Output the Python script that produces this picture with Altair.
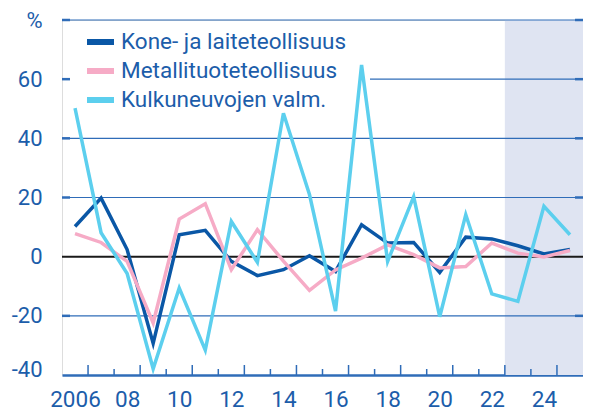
import altair as alt
import pandas as pd

# ---- data ----
years = list(range(2006, 2026))
kone = [10.2, 19.8, 2.4, -29.3, 7.4, 8.9, -1.6, -6.4, -4.4, 0.3,
        -5.0, 10.8, 4.6, 4.8, -5.3, 6.6, 6.0, 3.7, 0.9, 2.4]
metalli = [7.8, 4.8, -1.6, -22.4, 12.7, 17.9, -4.4, 9.1, -1.5, -11.4,
           -4.5, -0.5, 4.0, 0.7, -3.8, -3.3, 4.6, 1.2, -0.1, 2.1]
kulku = [50.2, 8.1, -5.7, -37.9, -10.6, -31.6, 11.9, -1.9, 48.5, 21.0,
         -18.4, 64.8, -1.6, 20.3, -20.3, 14.2, -12.6, -15.1, 17.0, 7.4]
series_names = ["Kone- ja laiteteollisuus", "Metallituoteteollisuus", "Kulkuneuvojen valm."]
series_colors = ["#0a57a6", "#f6abc6", "#5ccfee"]
forecast_start = [2022.5]
forecast_end = [2025.5]
x_domain = [2005.5, 2025.5]
y_domain = [-40, 80]
y_tick_values = [-40, -20, 0, 20, 40, 60, 80]
x_label_values = [2006, 2008, 2010, 2012, 2014, 2016, 2018, 2020, 2022, 2024]
grid_full = [-20, 20, 40, 80]
grid_partial = [60]
stub_values = [-20, 20, 40, 60, 80]
tick_long = [2006.5, 2008.5, 2010.5, 2012.5, 2014.5, 2016.5, 2018.5, 2020.5, 2022.5, 2024.5]
tick_short = [2007.5, 2009.5, 2011.5, 2013.5, 2015.5, 2017.5, 2019.5, 2021.5, 2023.5]

W, H = 521, 355
BLUE = "#1c5daa"
GRID = "#2f6cb8"
FONT = "Roboto"

rows = []
for name, vals in zip(series_names, [kone, metalli, kulku]):
    for y, v in zip(years, vals):
        rows.append({"year": y, "value": v, "series": name})
lines_df = pd.DataFrame(rows)

xs = alt.Scale(domain=x_domain, nice=False, zero=False)
ys = alt.Scale(domain=y_domain, nice=False, zero=False)

X_AXIS = alt.Axis(
    values=x_label_values, title=None, grid=False, ticks=False,
    domain=True, domainColor=GRID, domainWidth=2.5,
    labelExpr="datum.value == 2006 ? '2006' : substring(toString(datum.value), 2)",
    labelFont=FONT, labelFontSize=22.5, labelColor=BLUE, labelPadding=13,
    labelFlush=False, labelOverlap=False)
Y_AXIS = alt.Axis(
    values=y_tick_values, title=None, grid=False, ticks=False, domain=False,
    labelExpr="datum.value == 80 ? '%' : toString(datum.value)",
    labelFont=FONT, labelFontSize=22, labelColor=BLUE, labelPadding=20,
    labelOffset={"condition": {"test": "datum.value == -40", "value": -6}, "value": 0},
    labelFlush=False, labelOverlap=False)

shade = alt.Chart(pd.DataFrame({"s": forecast_start, "e": forecast_end})).mark_rect(
    color="#dfe4f2").encode(
    x=alt.X("s:Q", scale=xs, axis=X_AXIS), x2="e:Q",
    y=alt.value(0), y2=alt.value(H))

grid1 = alt.Chart(pd.DataFrame({"v": grid_full})).mark_rule(
    color=GRID, strokeWidth=1.2).encode(
    y=alt.Y("v:Q", scale=ys, axis=Y_AXIS), x=alt.value(0), x2=alt.value(W))

grid2 = alt.Chart(pd.DataFrame({"v": grid_partial})).mark_rule(
    color=GRID, strokeWidth=1.2).encode(
    y=alt.Y("v:Q", scale=ys, axis=Y_AXIS), x=alt.value(308), x2=alt.value(W))

stub_df = pd.DataFrame({"v": stub_values})
stub_left = alt.Chart(stub_df).mark_rule(color=GRID, strokeWidth=2.5).encode(
    y=alt.Y("v:Q", scale=ys, axis=Y_AXIS), x=alt.value(0), x2=alt.value(8))
stub_right = alt.Chart(stub_df).mark_rule(color=GRID, strokeWidth=2.5).encode(
    y=alt.Y("v:Q", scale=ys, axis=Y_AXIS), x=alt.value(W - 8), x2=alt.value(W))

zero = alt.Chart(pd.DataFrame({"v": [0]})).mark_rule(color="#1a1a1a", strokeWidth=2).encode(
    y=alt.Y("v:Q", scale=ys, axis=Y_AXIS), x=alt.value(0), x2=alt.value(W))

tl = alt.Chart(pd.DataFrame({"t": tick_long})).mark_rule(color=GRID, strokeWidth=1.5).encode(
    x=alt.X("t:Q", scale=xs, axis=X_AXIS), y=alt.value(H), y2=alt.value(H - 10))
ts = alt.Chart(pd.DataFrame({"t": tick_short})).mark_rule(color=GRID, strokeWidth=1.5).encode(
    x=alt.X("t:Q", scale=xs, axis=X_AXIS), y=alt.value(H), y2=alt.value(H - 6))

lines = alt.Chart(lines_df).mark_line(strokeWidth=3.5).encode(
    x=alt.X("year:Q", scale=xs, axis=X_AXIS),
    y=alt.Y("value:Q", scale=ys, axis=Y_AXIS),
    color=alt.Color("series:N", sort=series_names,
                    scale=alt.Scale(domain=series_names, range=series_colors),
                    legend=alt.Legend(
                        title=None, orient="none", legendX=22, legendY=5.5,
                        symbolType="stroke", symbolSize=729, symbolStrokeWidth=6,
                        labelFont=FONT, labelFontSize=22.5, labelColor=BLUE,
                        labelOffset=4, rowPadding=0, labelLimit=500, padding=0)),
    detail="series:N",
)

chart = alt.layer(shade, grid1, grid2, stub_left, stub_right, zero, tl, ts, lines).properties(
    width=W, height=H,
    autosize=alt.AutoSizeParams(type="none"),
    padding={"left": 54, "top": 12, "right": 0, "bottom": 37},
).configure_view(stroke=None).configure(background="white")

chart.save("out.html", embed_options={"renderer": "svg", "actions": False})
